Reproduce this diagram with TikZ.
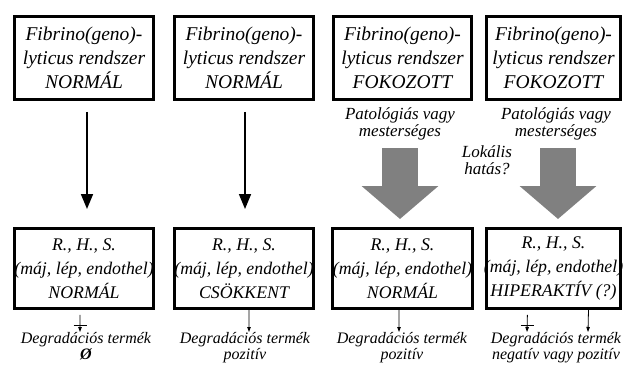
\documentclass[tikz,border=0pt]{standalone}
\usepackage{fontspec}
\setmainfont{Liberation Serif}
\usetikzlibrary{arrows.meta}
\tikzset{
  box/.style={draw, line width=3pt, minimum width=139pt, minimum height=83pt,
    align=center, inner sep=0pt, font=\fontsize{19.5}{24}\selectfont\itshape},
  lowbox/.style={box, minimum height=80pt, font=\fontsize{17.8}{24}\selectfont\itshape},
  narrow/.style={minimum width=135pt},
  note/.style={align=center, inner sep=0pt, font=\fontsize{16}{16.5}\selectfont\itshape},
  upnote/.style={note, font=\fontsize{17}{16.5}\selectfont\itshape},
  thinarrow/.style={line width=1.6pt, -{Triangle[width=12pt,length=15pt]}},
  bigarrow/.style={line width=36pt, draw=black!50, -{Triangle[width=75pt,length=33pt]}},
  smallarrow/.style={line width=0.8pt, -{Triangle[width=3.5pt,length=5pt]}},
}
\begin{document}
\begin{tikzpicture}
    \def\x{0.03515}
    \def\y{-0.03515}
    \useasboundingbox (0,0) rectangle (624*\x, 369*\y);
    % upper row
    \node[box] (A0_0) at (84*\x, 58*\y) {Fibrino(geno)-\\lyticus rendszer\\NORMÁL};
    \node[box] (A0_1) at (244*\x, 58*\y) {Fibrino(geno)-\\lyticus rendszer\\NORMÁL};
    \node[box] (A0_2) at (402.5*\x, 58*\y) {Fibrino(geno)-\\lyticus rendszer\\FOKOZOTT};
    \node[box, narrow] (A0_3) at (553.5*\x, 58*\y) {Fibrino(geno)-\\lyticus rendszer\\FOKOZOTT};
    % lower row
    \node[lowbox] (A1_0) at (84*\x, 268.5*\y) {R., H., S.\\(máj, lép, endothel)\\NORMÁL};
    \node[lowbox] (A1_1) at (244*\x, 268.5*\y) {R., H., S.\\(máj, lép, endothel)\\CSÖKKENT};
    \node[lowbox] (A1_2) at (402.5*\x, 268.5*\y) {R., H., S.\\(máj, lép, endothel)\\NORMÁL};
    \node[lowbox, narrow] (A1_3) at (553.5*\x, 268.5*\y)
      {R., H., S.\\\makebox[128pt]{(máj, lép, endothel)}\\\makebox[128pt]{HIPERAKTÍV (?)}};
    % notes
    \node[upnote] (P2) at (400*\x, 124*\y) {Patológiás vagy\\mesterséges};
    \node[upnote] (P3) at (556*\x, 124*\y) {Patológiás vagy\\mesterséges};
    \node[upnote] (L3) at (487*\x, 160*\y) {Lokális\\hatás?};
    \node[note, anchor=north] (D0) at (86*\x, 332*\y) {Degradációs termék\\\textbf{Ø}};
    \node[note, anchor=north] (D1) at (245*\x, 332*\y) {Degradációs termék\\pozitív};
    \node[note, anchor=north] (D2) at (402*\x, 332*\y) {Degradációs termék\\pozitív};
    \node[note, anchor=north] (D3) at (556*\x, 332*\y) {Degradációs termék\\negatív vagy pozitív};
    % arrows
    \draw[thinarrow, shorten <=11pt, shorten >=18pt] ([xshift=3pt]A0_0.south) -- ([xshift=3pt]A1_0.north);
    \draw[thinarrow, shorten <=11pt, shorten >=18pt] ([xshift=1pt]A0_1.south) -- ([xshift=1pt]A1_1.north);
    \coordinate (G2) at (400*\x, 148*\y);
    \coordinate (G3) at (558*\x, 148*\y);
    \draw[bigarrow, shorten >=8pt] (G2) -- (G2 |- A1_2.north);
    \draw[bigarrow, shorten >=8pt] (G3) -- (G3 |- A1_3.north);
    % degradation
    \draw[smallarrow, shorten <=5pt] ([xshift=-4pt]A1_0.south) -- ([xshift=-6pt]D0.north)
      coordinate[pos=0.72] (X0);
    \draw[line width=1.2pt] ([xshift=-6.5pt]X0) -- ([xshift=6.5pt]X0);
    \draw[smallarrow] ([xshift=5pt]A1_1.south) -- ([xshift=4pt]D1.north);
    \draw[smallarrow] ([xshift=-3.5pt]A1_2.south) -- ([xshift=-3pt]D2.north);
    \draw[smallarrow, shorten <=5pt] ([xshift=-26pt]A1_3.south) -- ([xshift=-29pt]D3.north)
      coordinate[pos=0.72] (X3);
    \draw[line width=1.2pt] ([xshift=-6.5pt]X3) -- ([xshift=6.5pt]X3);
    \draw[smallarrow] ([xshift=35pt]A1_3.south) -- ([xshift=32pt]D3.north);
\end{tikzpicture}
\end{document}
